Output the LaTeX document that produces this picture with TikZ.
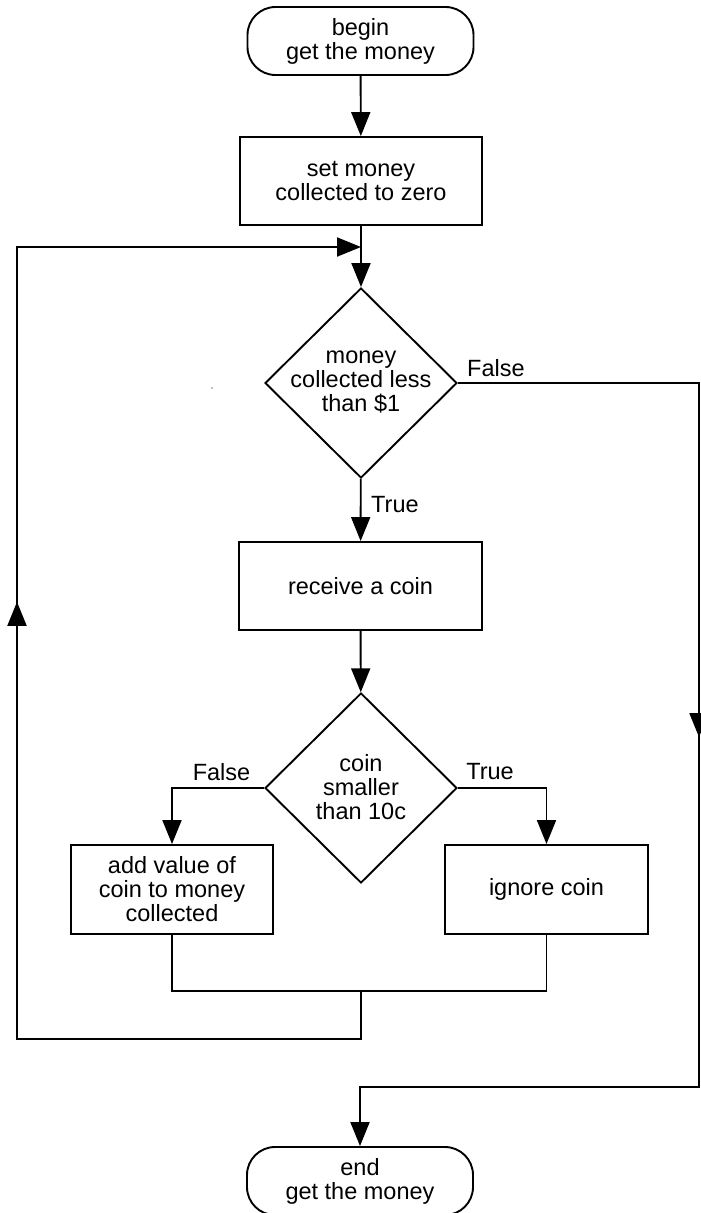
\documentclass[tikz,border=0pt]{standalone}
\usepackage{fontspec}
\setmainfont{Liberation Sans}
\usetikzlibrary{arrows.meta,shapes.geometric,calc}

\begin{document}
\begin{tikzpicture}[x=1pt,y=-1pt,
  every node/.style={font=\fontsize{23.5}{24}\selectfont},
  line/.style={line width=1.9pt},
  flow/.style={line, -{Triangle[length=24pt,width=19pt]}},
  term/.style={draw, line width=1.9pt, rectangle, rounded corners=28pt,
    minimum width=226pt, minimum height=68pt, inner sep=0pt, align=center},
  proc/.style={draw, line width=1.9pt, rectangle, minimum height=88pt,
    inner sep=0pt, align=center},
  dec/.style={draw, line width=1.9pt, diamond, minimum width=192pt,
    minimum height=190pt, inner sep=0pt},
  txt/.style={align=center, inner sep=0pt},
  lbl/.style={inner sep=0pt}
]
\useasboundingbox (0,0) rectangle (701,1213);

% terminals
\node[term] (begin) at (360.5,41) {begin\\get the money};
\node[term] (end) at (360,1181) {end\\get the money};

% process boxes
\node[proc, minimum width=242pt] (set) at (361,181) {set money\\collected to zero};
\node[proc, minimum width=243pt] (recv) at (360.5,586) {receive a coin};
\node[proc, minimum width=202pt, minimum height=89pt] (add) at (172,889.5)
  {add value of\\coin to money\\collected};
\node[proc, minimum width=203pt, minimum height=89pt] (ign) at (546.5,889.5) {ignore coin};

% decisions
\node[dec] (d1) at (361,383) {};
\node[txt] (d1t) at (361,382) {money\\collected less\\than \$1};
\node[dec] (d2) at (361,788) {};
\node[txt] (d2t) at (361,787) {coin\\smaller\\than 10c};

% branch labels
\node[lbl, anchor=west] (f1) at (467,368) {False};
\node[lbl, anchor=west] (t1) at (371,505) {True};
\node[lbl] (f2) at (221.5,772) {False};
\node[lbl] (t2) at (490,772) {True};

% main flow
\draw[flow] (begin) -- (set);
\draw[flow] (set) -- (d1);
\draw[flow] (d1) -- (recv);
\draw[flow] (recv) -- (d2);
\draw[flow] (d2.west) -| (add.north);
\draw[flow] (d2.east) -| (ign.north);

% merge and loop back
\coordinate (mg) at (361,991);
\coordinate (lb) at (17,1039);
\coordinate (lt) at (17,247);
\coordinate (jn) at (361,247);
\draw[line] (add.south) |- (mg) -| (ign.south);
\draw[flow] (mg) |- (lb) -- (lt) -- (jn);
\draw[flow] (lb) -- ($(lb)!0.552!(lt)$);

% exit path
\coordinate (rt) at (699,383);
\coordinate (rb) at (699,1087);
\draw[flow] (d1.east) -- (rt) -- (rb) -| (end.north);
\draw[flow] (rt) -- ($(rt)!0.503!(rb)$);

% small speck left of the first decision
\fill[gray] (212,388) circle (0.8);
\end{tikzpicture}
\end{document}
